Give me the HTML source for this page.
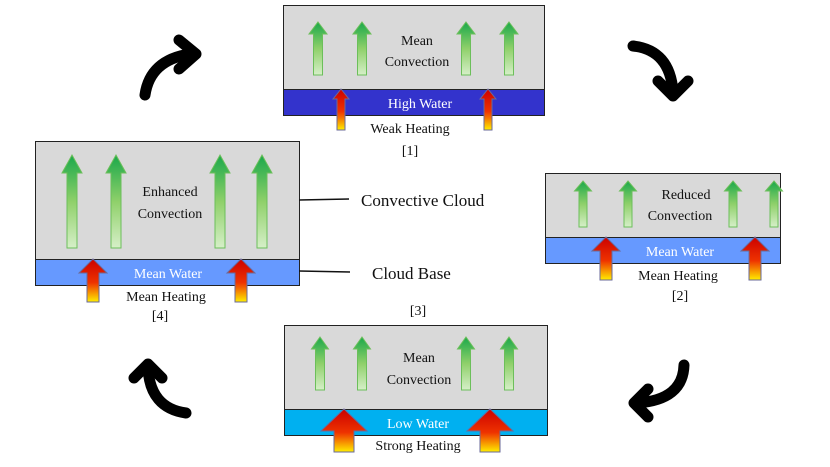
<!DOCTYPE html>
<html><head><meta charset="utf-8"><style>body{margin:0;background:#fff}svg{display:block}text{font-family:"Liberation Serif",serif;font-size:14px;fill:#111;text-anchor:middle}</style></head><body>
<svg id="s" width="830" height="467" viewBox="0 0 830 467" xmlns="http://www.w3.org/2000/svg">
<defs>
<linearGradient id="g" x1="0" y1="0" x2="0" y2="1"><stop offset="0" stop-color="#1aa84a"/><stop offset="0.5" stop-color="#8fd06a"/><stop offset="1" stop-color="#d6efc8"/></linearGradient>
<linearGradient id="r" x1="0" y1="0" x2="0" y2="1"><stop offset="0" stop-color="#cc0000"/><stop offset="0.55" stop-color="#ee3300"/><stop offset="1" stop-color="#ffee00"/></linearGradient>
</defs>
<!-- Box 1 -->
<rect x="283.5" y="5.5" width="261" height="84" fill="#d9d9d9" stroke="#222"/>
<rect x="283.5" y="89.5" width="261" height="26" fill="#3333cc" stroke="#222"/>
<text x="417" y="45">Mean</text><text x="417" y="66">Convection</text>
<text x="420" y="108" style="fill:#fff">High Water</text>
<text x="410" y="133">Weak Heating</text><text x="410" y="155">[1]</text>
<!-- Box 2 -->
<rect x="545.5" y="173.5" width="235" height="64" fill="#d9d9d9" stroke="#222"/>
<rect x="545.5" y="237.5" width="235" height="26" fill="#6699ff" stroke="#222"/>
<text x="686" y="199">Reduced</text><text x="680" y="220">Convection</text>
<text x="680" y="256" style="fill:#fff">Mean Water</text>
<text x="678" y="280">Mean Heating</text><text x="680" y="300">[2]</text>
<!-- Box 4 -->
<rect x="35.5" y="141.5" width="264" height="118" fill="#d9d9d9" stroke="#222"/>
<rect x="35.5" y="259.5" width="264" height="26" fill="#6699ff" stroke="#222"/>
<text x="170" y="196">Enhanced</text><text x="170" y="218">Convection</text>
<text x="168" y="278" style="fill:#fff">Mean Water</text>
<text x="166" y="301">Mean Heating</text><text x="160" y="320">[4]</text>
<line x1="299" y1="200" x2="349" y2="199" stroke="#111" stroke-width="1.5"/>
<line x1="299" y1="271" x2="350" y2="272" stroke="#111" stroke-width="1.5"/>
<text x="361" y="206" style="text-anchor:start;font-size:17px">Convective Cloud</text>
<text x="372" y="279" style="text-anchor:start;font-size:17px">Cloud Base</text>
<!-- Box 3 -->
<text x="418" y="315">[3]</text>
<rect x="284.5" y="325.5" width="263" height="84" fill="#d9d9d9" stroke="#222"/>
<rect x="284.5" y="409.5" width="263" height="26" fill="#00b0f0" stroke="#222"/>
<text x="419" y="362">Mean</text><text x="419" y="384">Convection</text>
<text x="418" y="428" style="fill:#fff">Low Water</text>
<text x="418" y="450">Strong Heating</text>
<g id="arr"></g>
<!-- curved arrows -->
<g fill="none" stroke="#000" stroke-width="11" stroke-linecap="round" stroke-linejoin="round">
<path d="M145 95 Q150 60 190 54"/><path d="M179 40 L196 54 L179 69"/>
<path d="M633 46 Q670 50 673 92"/><path d="M658 81 L673 96 L688 81"/>
<path d="M684 365 Q683 400 637 403"/><path d="M648 389 L634 403 L648 417"/>
<path d="M186 413 Q150 408 148 368"/><path d="M134 378 L148 364 L162 378"/>
</g>
</svg>
<script>
var g=document.getElementById('arr'),ns='http://www.w3.org/2000/svg';
function a(cx,top,bot,sw,hw,hh,fill,stroke){var p=document.createElementNS(ns,'path');var s=sw/2,h=hw/2;
p.setAttribute('d','M'+cx+' '+top+' L'+(cx+h)+' '+(top+hh)+' L'+(cx+s)+' '+(top+hh)+' L'+(cx+s)+' '+bot+' L'+(cx-s)+' '+bot+' L'+(cx-s)+' '+(top+hh)+' L'+(cx-h)+' '+(top+hh)+' Z');
p.setAttribute('fill',fill);p.setAttribute('stroke',stroke);p.setAttribute('stroke-width','1');g.appendChild(p);}
var G='url(#g)',GS='#6cbf5a',R='url(#r)',RS='#6a6a9a';
[318,362,466,509].forEach(function(x){a(x,22,75,9,18,12,G,GS)});
[583,628,733,774].forEach(function(x){a(x,181,227,8,17,10,G,GS)});
[72,116,220,262].forEach(function(x){a(x,155,248,10,20,18,G,GS)});
[320,362,466,509].forEach(function(x){a(x,337,390,9,17,12,G,GS)});
[341,488].forEach(function(x){a(x,89,130,8,16,10,R,RS)});
[606,755].forEach(function(x){a(x,237,280,12,28,14,R,RS)});
[93,241].forEach(function(x){a(x,259,302,12,28,14,R,RS)});
[344,490].forEach(function(x){a(x,409,452,20,46,22,R,RS)});
</script>
</body></html>
